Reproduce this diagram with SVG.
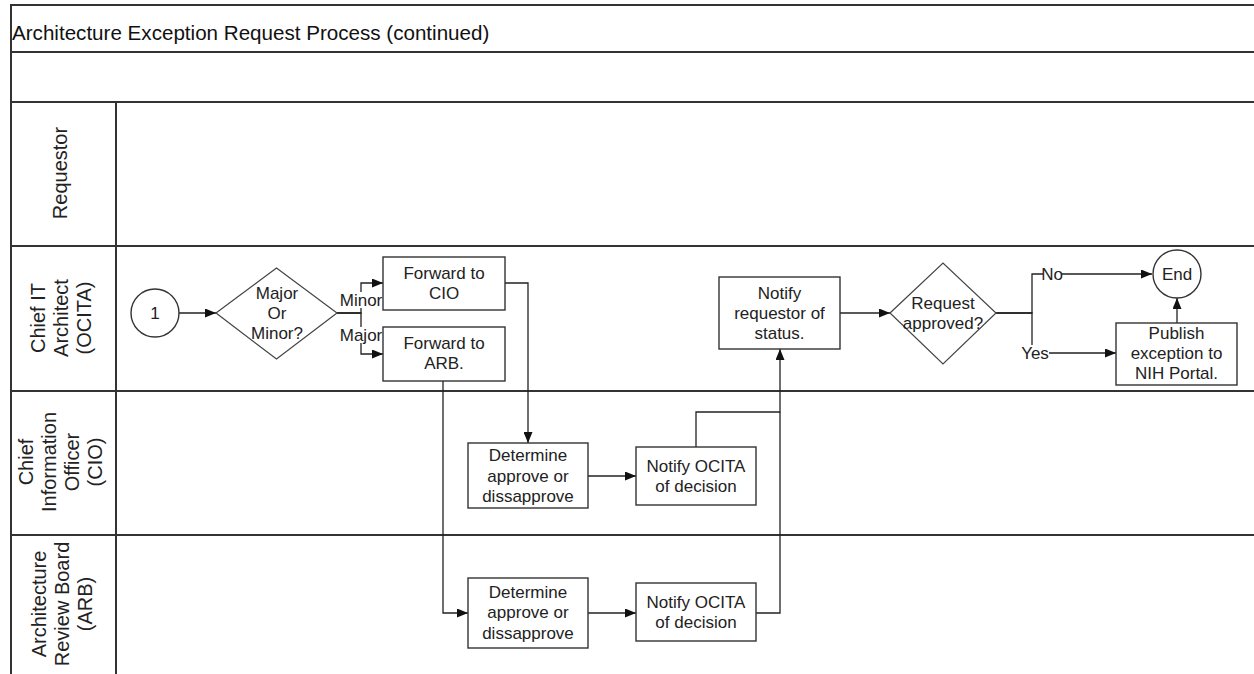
<svg xmlns="http://www.w3.org/2000/svg" width="1254" height="674" viewBox="0 0 1254 674">
<defs>
<marker id="arr" markerUnits="userSpaceOnUse" markerWidth="11" markerHeight="9" refX="11" refY="4.5" orient="auto">
<path d="M0,0 L11,4.5 L0,9 z" fill="#111"/>
</marker>
<style>
.lane{stroke:#333;stroke-width:2;fill:none}
.box{fill:#fff;stroke:#333;stroke-width:1.4}
.dia{fill:#fff;stroke:#444;stroke-width:1.2}
.t{font-family:"Liberation Sans",Arial,sans-serif;font-size:17px;fill:#222;text-anchor:middle}
.ll{font-family:"Liberation Sans",Arial,sans-serif;font-size:20px;fill:#222;text-anchor:middle}
.ttl{font-family:"Liberation Sans",Arial,sans-serif;font-size:20.6px;fill:#111}
.c{fill:none;stroke:#222;stroke-width:1.3}
.lb{fill:#fff;stroke:none}
</style>
</defs>
<rect width="1254" height="674" fill="#fff"/>
<g id="pool">
<path class="lane" d="M11,674 V5 H1254 M11,52 H1254 M11,102 H1254 M11,246 H1254 M11,391 H1254 M11,535 H1254 M116,102 V674"/>
<text class="ttl" x="12" y="40">Architecture Exception Request Process (continued)</text>
</g>
<g id="lane-requestor">
<text class="ll" transform="rotate(-90 62 173)" x="62" y="178">Requestor</text>
</g>
<g id="lane-ocita">
<text class="ll" transform="rotate(-90 62 318)"><tspan x="62" y="301">Chief IT</tspan><tspan x="62" y="324">Architect</tspan><tspan x="62" y="347">(OCITA)</tspan></text>
</g>
<g id="lane-cio">
<text class="ll" transform="rotate(-90 62 462)"><tspan x="62" y="433">Chief</tspan><tspan x="62" y="456">Information</tspan><tspan x="62" y="479">Officer</tspan><tspan x="62" y="502">(CIO)</tspan></text>
</g>
<g id="lane-arb">
<text class="ll" transform="rotate(-90 62 604)"><tspan x="62" y="588">Architecture</tspan><tspan x="62" y="611">Review Board</tspan><tspan x="62" y="634">(ARB)</tspan></text>
</g>
<g id="connectors">
<path class="c" marker-end="url(#arr)" d="M179,313 H216"/>
<path class="c" marker-end="url(#arr)" d="M337,313 H361 V283 H383"/>
<path class="c" marker-end="url(#arr)" d="M337,313 H361 V354 H383"/>
<path class="c" marker-end="url(#arr)" d="M505,283 H528 V443"/>
<path class="c" marker-end="url(#arr)" d="M443,381 V613 H468"/>
<path class="c" marker-end="url(#arr)" d="M588,476 H636"/>
<path class="c" marker-end="url(#arr)" d="M588,613 H636"/>
<path class="c" marker-end="url(#arr)" d="M696,447 V412 H780 V349"/>
<path class="c" d="M756,613 H780 V412"/>
<path class="c" marker-end="url(#arr)" d="M840,313 H890"/>
<path class="c" marker-end="url(#arr)" d="M996,313 H1032 V274 H1152"/>
<path class="c" marker-end="url(#arr)" d="M996,313 H1032 V353 H1116"/>
<path class="c" marker-end="url(#arr)" d="M1177,323 V298"/>
<rect class="lb" x="340" y="292" width="42" height="16"/>
<text class="t" x="361" y="306">Minor</text>
<rect class="lb" x="340" y="327" width="42" height="16"/>
<text class="t" x="361" y="341">Major</text>
<rect class="lb" x="1043" y="266" width="19" height="16"/>
<text class="t" x="1052" y="280">No</text>
<rect class="lb" x="1021" y="345" width="28" height="16"/>
<text class="t" x="1035" y="359">Yes</text>
</g>
<g id="start">
<circle class="box" cx="155" cy="313" r="24"/>
<text class="t" x="155" y="319">1</text>
</g>
<g id="major-minor">
<polygon class="dia" points="216,313 276.5,268 337,313 276.5,359"/>
<text class="t"><tspan x="277" y="299">Major</tspan><tspan x="277" y="319">Or</tspan><tspan x="277" y="339">Minor?</tspan></text>
</g>
<g id="fwd-cio">
<rect class="box" x="383" y="257" width="122" height="53"/>
<text class="t"><tspan x="444" y="279">Forward to</tspan><tspan x="444" y="299">CIO</tspan></text>
</g>
<g id="fwd-arb">
<rect class="box" x="383" y="327" width="122" height="54"/>
<text class="t"><tspan x="444" y="349">Forward to</tspan><tspan x="444" y="369">ARB.</tspan></text>
</g>
<g id="det-cio">
<rect class="box" x="468" y="443" width="120" height="65"/>
<text class="t"><tspan x="528" y="461">Determine</tspan><tspan x="528" y="482">approve or</tspan><tspan x="528" y="502">dissapprove</tspan></text>
</g>
<g id="notify-cio">
<rect class="box" x="636" y="447" width="120" height="58"/>
<text class="t"><tspan x="696" y="472">Notify OCITA</tspan><tspan x="696" y="492">of decision</tspan></text>
</g>
<g id="det-arb">
<rect class="box" x="468" y="578" width="120" height="70"/>
<text class="t"><tspan x="528" y="598">Determine</tspan><tspan x="528" y="618">approve or</tspan><tspan x="528" y="639">dissapprove</tspan></text>
</g>
<g id="notify-arb">
<rect class="box" x="636" y="583" width="120" height="58"/>
<text class="t"><tspan x="696" y="608">Notify OCITA</tspan><tspan x="696" y="628">of decision</tspan></text>
</g>
<g id="notify-req">
<rect class="box" x="719" y="277" width="121" height="72"/>
<text class="t"><tspan x="779.5" y="299">Notify</tspan><tspan x="779.5" y="319">requestor of</tspan><tspan x="779.5" y="339">status.</tspan></text>
</g>
<g id="req-approved">
<polygon class="dia" points="890,313 943,263 996,313 943,364"/>
<text class="t"><tspan x="943" y="309">Request</tspan><tspan x="943" y="329">approved?</tspan></text>
</g>
<g id="end">
<circle class="box" cx="1177" cy="274" r="24"/>
<text class="t" x="1177" y="280">End</text>
</g>
<g id="publish">
<rect class="box" x="1116" y="323" width="121" height="62"/>
<text class="t"><tspan x="1176.5" y="339">Publish</tspan><tspan x="1176.5" y="359">exception to</tspan><tspan x="1176.5" y="379">NIH Portal.</tspan></text>
</g>
</svg>
